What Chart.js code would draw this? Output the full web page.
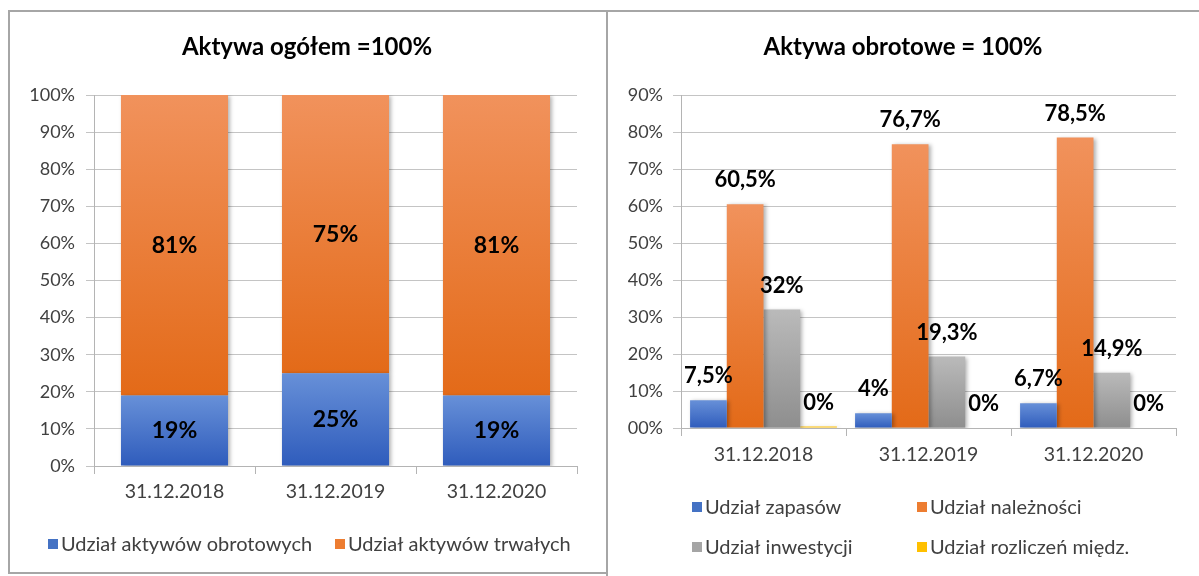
<!DOCTYPE html>
<html>
<head>
<meta charset="utf-8">
<script src="https://cdn.jsdelivr.net/npm/chart.js@4.4.1/dist/chart.umd.min.js"></script>
<style>
  html, body { margin: 0; padding: 0; background: #fff; }
  body { width: 1199px; height: 576px; position: relative; overflow: hidden; }
  #ramka1 { position: absolute; left: 8px; top: 10px; width: 600px; height: 564px; border: 2px solid #a6a6a6; box-sizing: border-box; }
  #ramka2 { position: absolute; left: 606px; top: 10px; width: 600px; height: 580px; border-left: 2px solid #a6a6a6; border-top: 2px solid #a6a6a6; box-sizing: border-box; }
  #wykres1 { position: absolute; left: 0; top: 0; }
  #wykres2 { position: absolute; left: 607px; top: 0; }
</style>
</head>
<body>
<div id="ramka1"></div>
<div id="ramka2"></div>
<canvas id="wykres1" width="607" height="576"></canvas>
<canvas id="wykres2" width="592" height="576"></canvas>
<script>
// dane
const daty = ['31.12.2018', '31.12.2019', '31.12.2020']

// Aktywa ogółem = 100%
const udzialObrotowych = [19, 25, 19]
const udzialTrwalych = [81, 75, 81]

// Aktywa obrotowe = 100%
const udzialZapasow = [7.5, 4, 6.7]
const udzialNaleznosci = [60.5, 76.7, 78.5]
const udzialInwestycji = [32, 19.3, 14.9]
const udzialRozliczen = [0.4, 0, 0]

Chart.defaults.font.family = 'Lato'

function procent(v) {
    return (v < 1 ? Math.round(v) : v).toString().replace('.', ',') + '%'
}

// gradient pionowy dla kazdego slupka osobno (jak w Excelu)
function gradient(jasny, ciemny, stos) {
    return function (c) {
        const chart = c.chart
        if (!chart.chartArea || c.type !== 'data') return ciemny
        const y = chart.scales.y
        const ds = chart.data.datasets
        let dol = 0
        if (stos) {
            for (let k = 0; k < c.datasetIndex; k++) dol += ds[k].data[c.dataIndex]
        }
        const gora = dol + ds[c.datasetIndex].data[c.dataIndex]
        const y1 = y.getPixelForValue(gora)
        const y2 = y.getPixelForValue(dol)
        if (y2 - y1 < 1) return ciemny
        const g = chart.ctx.createLinearGradient(0, y1, 0, y2)
        g.addColorStop(0, jasny)
        g.addColorStop(1, ciemny)
        return g
    }
}

// tytul, etykiety danych i legenda w kolumnach
const etykiety = {
    id: 'etykiety',
    beforeDatasetsDraw(chart) {
        const ctx = chart.ctx
        ctx.save()
        ctx.shadowColor = 'rgba(0,0,0,0.3)'
        ctx.shadowBlur = 4
        ctx.shadowOffsetX = 2
        ctx.shadowOffsetY = 1
    },
    afterDatasetsDraw(chart, args, opts) {
        const ctx = chart.ctx
        ctx.restore()
        ctx.save()
        ctx.font = 'bold ' + opts.rozmiar + 'px Lato'
        ctx.fillStyle = '#000'
        ctx.textAlign = 'center'
        ctx.textBaseline = 'middle'
        chart.data.datasets.forEach((ds, i) => {
            chart.getDatasetMeta(i).data.forEach((el, j) => {
                const y = opts.srodek ? (el.y + el.base) / 2 : el.y - opts.odstep
                ctx.fillText(procent(ds.data[j]), el.x, y)
            })
        })
        ctx.restore()
    },
    afterDraw(chart, args, opts) {
        const ctx = chart.ctx
        ctx.save()
        ctx.font = 'bold 24px Lato'
        ctx.fillStyle = '#000'
        ctx.textAlign = 'center'
        ctx.textBaseline = 'middle'
        ctx.fillText(opts.tytul, opts.tytulX, 47)

        const lg = opts.legenda
        ctx.font = '20px Lato'
        ctx.textAlign = 'left'
        chart.data.datasets.forEach((ds, i) => {
            const kol = i % lg.kolumny
            const wiersz = Math.floor(i / lg.kolumny)
            const x = lg.x + kol * lg.szer
            const y = lg.y[wiersz]
            ctx.fillStyle = ds.kolor
            ctx.fillRect(x, y - 5, 10, 10)
            ctx.fillStyle = '#404040'
            ctx.fillText(ds.label, x + 13, y + 1)
        })
        ctx.restore()
    }
}

function osie(stos, max, szerY, padY, padX) {
    return {
        x: {
            stacked: stos,
            grid: { offset: true, drawOnChartArea: false, tickLength: 8, color: '#b4b4b4' },
            border: { color: '#b4b4b4' },
            ticks: { color: '#404040', font: { size: 19.5 }, padding: padX },
            afterFit(s) { s.height = 40 }
        },
        y: {
            stacked: stos,
            min: 0,
            max: max,
            ticks: {
                stepSize: 10,
                color: '#404040',
                font: { size: 18 },
                padding: padY,
                callback: v => (max === 90 && v === 0 ? '00%' : v + '%')
            },
            grid: { color: '#c4c4c4', tickLength: 8 },
            border: { color: '#b4b4b4' },
            afterFit(s) { s.width = szerY }
        }
    }
}

new Chart(document.getElementById('wykres1'), {
    type: 'bar',
    data: {
        labels: daty,
        datasets: [{
            label: 'Udział aktywów obrotowych',
            data: udzialObrotowych,
            kolor: '#4472c4',
            backgroundColor: gradient('#6790d8', '#2f5cbc', true)
        }, {
            label: 'Udział aktywów trwałych',
            data: udzialTrwalych,
            kolor: '#ed7d31',
            backgroundColor: gradient('#f1925c', '#e36a18', true)
        }]
    },
    options: {
        responsive: false,
        animation: false,
        devicePixelRatio: 1,
        layout: { padding: { left: 0, right: 30, top: 95, bottom: 70 } },
        datasets: { bar: { barPercentage: 0.665, categoryPercentage: 1, borderWidth: 0 } },
        scales: osie(true, 100, 94, 11, 6),
        plugins: {
            title: { display: false },
            legend: { display: false },
            tooltip: { enabled: false },
            etykiety: {
                tytul: 'Aktywa ogółem =100%', tytulX: 307,
                srodek: true, rozmiar: 23,
                legenda: { x: 48, szer: 287, kolumny: 2, y: [544] }
            }
        }
    },
    plugins: [etykiety]
})

new Chart(document.getElementById('wykres2'), {
    type: 'bar',
    data: {
        labels: daty,
        datasets: [{
            label: 'Udział zapasów',
            data: udzialZapasow,
            kolor: '#4472c4',
            backgroundColor: gradient('#6790d8', '#2f5cbc', false)
        }, {
            label: 'Udział należności',
            data: udzialNaleznosci,
            kolor: '#ed7d31',
            backgroundColor: gradient('#f1925c', '#e36a18', false)
        }, {
            label: 'Udział inwestycji',
            data: udzialInwestycji,
            kolor: '#a5a5a5',
            backgroundColor: gradient('#bababa', '#8e8e8e', false)
        }, {
            label: 'Udział rozliczeń międz.',
            data: udzialRozliczen,
            kolor: '#ffc000',
            backgroundColor: '#ffc000'
        }]
    },
    options: {
        responsive: false,
        animation: false,
        devicePixelRatio: 1,
        layout: { padding: { left: 0, right: 23, top: 95, bottom: 108 } },
        datasets: { bar: { barPercentage: 1, categoryPercentage: 0.89, borderWidth: 0 } },
        scales: osie(false, 90, 74, 10, 7),
        plugins: {
            title: { display: false },
            legend: { display: false },
            tooltip: { enabled: false },
            etykiety: {
                tytul: 'Aktywa obrotowe = 100%', tytulX: 296,
                srodek: false, odstep: 24, rozmiar: 22,
                legenda: { x: 85, szer: 225, kolumny: 2, y: [507, 547] }
            }
        }
    },
    plugins: [etykiety]
})
</script>
</body>
</html>
